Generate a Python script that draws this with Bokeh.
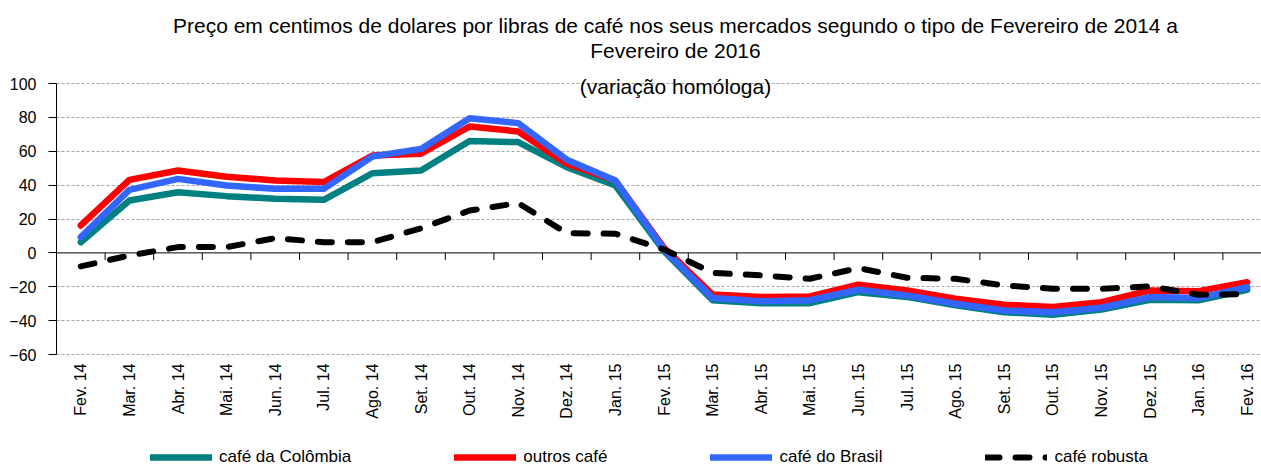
import math
from bokeh.plotting import figure
from bokeh.models import (Range1d, FixedTicker, Span, Label, Legend, LegendItem, ColumnDataSource)
from bokeh.embed import file_html
from bokeh.resources import INLINE

months = ["Fev. 14", "Mar. 14", "Abr. 14", "Mai. 14", "Jun. 14", "Jul. 14", "Ago. 14",
          "Set. 14", "Out. 14", "Nov. 14", "Dez. 14", "Jan. 15", "Fev. 15", "Mar. 15",
          "Abr. 15", "Mai. 15", "Jun. 15", "Jul. 15", "Ago. 15", "Set. 15", "Out. 15",
          "Nov. 15", "Dez. 15", "Jan. 16", "Fev. 16"]

cafe_colombia = [6.3, 30.9, 35.8, 33.5, 32.0, 31.3, 47.0, 48.6, 66.0, 65.4, 50.6, 39.8, 1.0,
                 -28.0, -29.7, -29.7, -23.2, -26.0, -31.0, -35.0, -36.5, -33.5, -27.7, -28.0, -21.8]
outros_cafe = [16.2, 43.1, 48.6, 45.0, 42.7, 41.8, 57.5, 58.5, 74.6, 71.7, 52.6, 42.7, 3.0,
               -24.6, -26.1, -25.7, -18.8, -22.2, -27.1, -30.6, -32.0, -29.1, -22.2, -22.6, -17.3]
cafe_brasil = [9.3, 37.2, 43.7, 39.8, 37.8, 37.8, 56.9, 61.4, 79.5, 76.6, 55.0, 42.7, 2.0,
               -26.7, -28.5, -28.0, -21.8, -25.1, -30.0, -34.0, -35.0, -32.4, -26.1, -26.7, -20.2]
cafe_robusta = [-8.0, -1.5, 3.4, 3.4, 8.7, 6.3, 6.3, 14.5, 25.0, 29.4, 11.6, 11.3, 2.0,
                -11.8, -13.3, -15.3, -9.0, -14.7, -15.3, -19.2, -21.2, -21.2, -19.8, -24.7, -24.3]

series_names = ["café da Colômbia", "outros café", "café do Brasil", "café robusta"]
y_ticks = [-60, -40, -20, 0, 20, 40, 60, 80, 100]

title_lines = ["Preço em centimos de dolares por libras de café nos seus mercados segundo o tipo de Fevereiro de 2014 a",
               "Fevereiro de 2016",
               "(variação homóloga)"]

FONT = "Liberation Sans"
idx = list(range(len(months)))

# layout (pixels)
W, H = 1261, 467
ML = 56                 # left panel for the y axis
step_px = 48.6          # width of one month
top_px, bot_px = 83, 354  # pixel rows of y = 100 and y = -60
ymin, ymax = y_ticks[0], y_ticks[-1]
ppu = (bot_px - top_px) / (ymax - ymin)
y_lo = ymin - (H - bot_px) / ppu
y_hi = ymax + top_px / ppu
frame_w = W - ML

p = figure(width=W, height=H, output_backend="svg", toolbar_location=None,
           x_range=Range1d(-0.5, -0.5 + frame_w / step_px), y_range=Range1d(y_lo, y_hi),
           min_border_left=ML, min_border_right=0, min_border_top=0, min_border_bottom=0)
p.outline_line_color = None
p.background_fill_color = "white"
p.border_fill_color = "white"
p.xaxis.visible = False
p.xgrid.grid_line_color = None

# horizontal grid
p.ygrid.ticker = FixedTicker(ticks=[t for t in y_ticks if t != 0])
p.ygrid.grid_line_color = "#a6a6a6"
p.ygrid.grid_line_dash = "3 2"
p.ygrid.grid_line_width = 1

# y axis
p.yaxis.ticker = FixedTicker(ticks=y_ticks)
p.yaxis.bounds = (ymin, ymax)
p.yaxis.axis_line_color = "black"
p.yaxis.major_tick_line_color = "black"
p.yaxis.major_tick_in = 0
p.yaxis.major_tick_out = 8
p.yaxis.minor_tick_line_color = None
p.yaxis.major_label_standoff = 12
p.yaxis.major_label_text_font = FONT
p.yaxis.major_label_text_font_size = "16px"
p.yaxis.major_label_text_color = "black"

# zero line with ticks at the month boundaries
p.add_layout(Span(location=0, dimension="width", line_color="black", line_width=1, level="underlay"))
bounds = [i + 0.5 for i in idx[:-1]]
p.segment(x0=bounds, y0=[0] * len(bounds), x1=bounds, y1=[-4.2] * len(bounds),
          line_color="black", line_width=1, level="underlay")

# month labels under the plot area, reading upwards
p.text(x=idx, y=[ymin] * len(idx), text=months, angle=math.pi / 2, text_align="right",
       text_baseline="middle", y_offset=9, text_font_size="16px", text_color="black",
       text_font={"value": FONT})

src = ColumnDataSource(dict(x=idx, col=cafe_colombia, out=outros_cafe, bra=cafe_brasil, rob=cafe_robusta))
r1 = p.line("x", "col", source=src, line_color="#008080", line_width=6.5, line_join="round", line_cap="round")
r2 = p.line("x", "out", source=src, line_color="#ff0000", line_width=6.5, line_join="round", line_cap="round")
r3 = p.line("x", "bra", source=src, line_color="#3366ff", line_width=6.5, line_join="round", line_cap="round")
r4 = p.line("x", "rob", source=src, line_color="black", line_width=6, line_dash="14 16",
            line_join="round", line_cap="round")

legend = Legend(items=[LegendItem(label=n, renderers=[r]) for n, r in zip(series_names, [r1, r2, r3, r4])],
                orientation="horizontal", location=(150 - ML, 0), glyph_width=62, glyph_height=16,
                label_standoff=7, spacing=103, padding=0, margin=0, border_line_color=None,
                background_fill_alpha=0, label_text_font=FONT, label_text_font_size="17px",
                label_text_color="black", label_height=18)
p.add_layout(legend)

# title lines (screen units measured from the frame's bottom-left corner)
for txt, y_page in zip(title_lines, [25, 50, 86]):
    p.add_layout(Label(x=675 - ML, y=H - y_page, x_units="screen", y_units="screen",
                       text=txt, text_align="center", text_baseline="middle",
                       text_font=FONT, text_font_size="21px", text_color="black"))

open("out.html", "w").write(file_html(p, INLINE))
